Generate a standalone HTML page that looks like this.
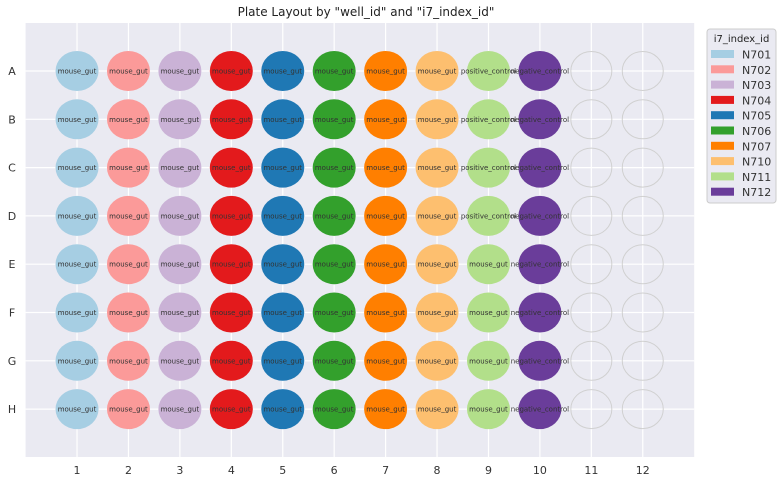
<!DOCTYPE html>
<html><head><meta charset="utf-8"><style>
body{margin:0;background:#fff;font-family:"Liberation Sans","DejaVu Sans",sans-serif;}
svg text{font-family:"DejaVu Sans","Liberation Sans",sans-serif;}
</style></head><body>
<svg id="chart" width="783" height="484" xmlns="http://www.w3.org/2000/svg">
<text x="366" y="16" text-anchor="middle" font-size="12" fill="#222">Plate Layout by "well_id" and "i7_index_id"</text>
<rect x="25.6" y="23" width="668.6" height="434" fill="#eaeaf2"/>
<g id="grid"></g><g id="wells"></g><g id="axes"></g><g id="legend"></g>
</svg>
<script>
const rows=['A','B','C','D','E','F','G','H'];
const cols=[1,2,3,4,5,6,7,8,9,10,11,12];
const indexNames=['N701','N702','N703','N704','N705','N706','N707','N710','N711','N712'];
const indexColors=['#a6cee3','#fb9a99','#cab2d6','#e31a1c','#1f78b4','#33a02c','#ff7f00','#fdbf6f','#b2df8a','#6a3d9a'];
const col9Samples=['positive_control','positive_control','positive_control','positive_control','mouse_gut','mouse_gut','mouse_gut','mouse_gut'];
const col10Samples=['negative_control','negative_control','negative_control','negative_control','negative_control','negative_control','negative_control','negative_control'];
const NS='http://www.w3.org/2000/svg';
function X(c){return 25.6+c*51.43;}
function Y(r){return 71+r*48.3;}
function mk(t,a,p){const e=document.createElementNS(NS,t);for(const k in a)e.setAttribute(k,a[k]);p.appendChild(e);return e;}
const grid=document.getElementById('grid'),wells=document.getElementById('wells'),axes=document.getElementById('axes'),legend=document.getElementById('legend');
cols.forEach(c=>{const l=mk('line',{x1:X(c),x2:X(c),y1:23,y2:457,stroke:'#fff','stroke-width':1.2},grid);


const t=mk('text',{x:X(c),y:474,'text-anchor':'middle','font-size':11,fill:'#333'},axes);t.textContent=c;

});
rows.forEach((r,i)=>{const l=mk('line',{x1:25.6,x2:694.2,y1:Y(i),y2:Y(i),stroke:'#fff','stroke-width':1.2},grid);


const t=mk('text',{x:12,y:Y(i)+4,'text-anchor':'middle','font-size':11,fill:'#333'},axes);t.textContent=r;

});
rows.forEach((r,i)=>{cols.forEach((c,j)=>{
 const g=mk('g',{},wells);
 
 
 if(j<10){
  mk('ellipse',{cx:X(c),cy:Y(i),rx:21.5,ry:20,fill:indexColors[j]},g);
  let s=j===8?col9Samples[i]:j===9?col10Samples[i]:'mouse_gut';
  const t=mk('text',{x:X(c),y:Y(i)+2.5,'text-anchor':'middle','font-size':7,fill:'#333'},g);t.textContent=s;
 }else{
  mk('ellipse',{cx:X(c),cy:Y(i),rx:20.5,ry:19.5,fill:'none',stroke:'#d0d0d0','stroke-width':1},g);
 }
});});
const lb=mk('rect',{x:707,y:29,width:69,height:174,rx:3,fill:'#eaeaf2',stroke:'#ccc'},legend);


const lt=mk('text',{x:741.5,y:42,'text-anchor':'middle','font-size':10,fill:'#222'},legend);lt.textContent='i7_index_id';


indexNames.forEach((n,k)=>{const y=54+k*15.3;const g=mk('g',{},legend);


mk('rect',{x:711,y:y-4,width:23,height:8,fill:indexColors[k]},g);
const t=mk('text',{x:742,y:y+4.5,'font-size':11,fill:'#333'},g);t.textContent=n;});
</script>
</body></html>
